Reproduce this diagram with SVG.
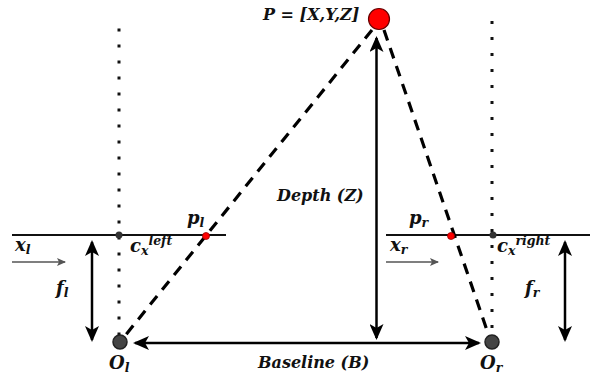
<svg xmlns="http://www.w3.org/2000/svg" width="590" height="379" viewBox="0 0 590 379">
<defs>
<marker id="ah" viewBox="0 0 16 14" refX="14" refY="7" markerWidth="16" markerHeight="14" markerUnits="userSpaceOnUse" orient="auto-start-reverse">
<path d="M0,0 L16,7 L0,14 L4,7 Z" fill="#000"/>
</marker>
<marker id="gh" viewBox="0 0 9 8" refX="8" refY="4" markerWidth="9" markerHeight="8" markerUnits="userSpaceOnUse" orient="auto">
<path d="M0,0 L9,4 L0,8 L2,4 Z" fill="#555"/>
</marker>
<style>
.t{font-family:"DejaVu Serif",serif;font-weight:bold;font-style:italic;fill:#111;font-size:16px}
.b{font-size:18px}
.s{font-size:12.5px}
.img{stroke:#111;stroke-width:2;fill:none}
.dot{stroke:#111;stroke-width:3;stroke-dasharray:3 13;fill:none}
.dash{stroke:#000;stroke-width:3.2;stroke-dasharray:11 8;fill:none}
.arr{stroke:#000;stroke-width:2.5;fill:none;marker-start:url(#ah);marker-end:url(#ah)}
.garr{stroke:#555;stroke-width:1.5;fill:none;marker-end:url(#gh)}
.cam{fill:#444;stroke:#222;stroke-width:1.5}
.pp{fill:#ff0000;stroke:#900;stroke-width:0.8}
.cx{fill:#333}
</style>
</defs>
<g id="connectors">
<line class="dot" x1="119" y1="28.5" x2="119" y2="336"/>
<line class="dot" x1="492" y1="21" x2="492" y2="336"/>
<line class="img" x1="12" y1="235" x2="226" y2="235"/>
<line class="img" x1="386" y1="235" x2="590" y2="235"/>
<line class="dash" x1="372" y1="30" x2="120" y2="342"/>
<line class="dash" x1="384" y1="30" x2="491" y2="342"/>
<line class="arr" x1="376.5" y1="38" x2="376.5" y2="338"/>
<line class="arr" x1="135" y1="343" x2="479" y2="343"/>
<line class="arr" x1="92" y1="242" x2="92" y2="340"/>
<line class="arr" x1="565" y1="242" x2="565" y2="340"/>
<line class="garr" x1="12" y1="262" x2="65" y2="262"/>
<line class="garr" x1="386" y1="262" x2="438" y2="262"/>
</g>
<g id="P">
<circle cx="379" cy="19" r="10.5" fill="#ff0000" stroke="#600" stroke-width="1.2"/>
<text class="t" x="263" y="20">P = [X,Y,Z]</text>
</g>
<g id="Ol">
<circle class="cam" cx="120" cy="342" r="7"/>
<text class="t b" x="109" y="369">O<tspan class="s" dy="3">l</tspan></text>
</g>
<g id="Or">
<circle class="cam" cx="492" cy="342" r="7"/>
<text class="t b" x="480" y="369">O<tspan class="s" dy="3">r</tspan></text>
</g>
<g id="cxleft">
<circle class="cx" cx="119" cy="235" r="3.5"/>
<text class="t b" x="130" y="252">c<tspan class="s" dy="3">x</tspan><tspan class="s" dy="-10">left</tspan></text>
</g>
<g id="cxright">
<circle class="cx" cx="493" cy="235" r="3.5"/>
<text class="t b" x="497" y="252">c<tspan class="s" dy="3">x</tspan><tspan class="s" dy="-10">right</tspan></text>
</g>
<g id="pl">
<circle class="pp" cx="206" cy="236" r="3.5"/>
<text class="t b" x="187" y="224">p<tspan class="s" dy="3">l</tspan></text>
</g>
<g id="pr">
<circle class="pp" cx="451" cy="236" r="3.5"/>
<text class="t b" x="409" y="224">p<tspan class="s" dy="3">r</tspan></text>
</g>
<g id="labels">
<text class="t b" x="15" y="251" fill="#333">x<tspan class="s" dy="3">l</tspan></text>
<text class="t b" x="390" y="251" fill="#333">x<tspan class="s" dy="3">r</tspan></text>
<text class="t b" x="56" y="294">f<tspan class="s" dy="3">l</tspan></text>
<text class="t b" x="525" y="294">f<tspan class="s" dy="3">r</tspan></text>
<text class="t" x="277" y="201">Depth (Z)</text>
<text class="t" x="258" y="368">Baseline (B)</text>
</g>
</svg>
